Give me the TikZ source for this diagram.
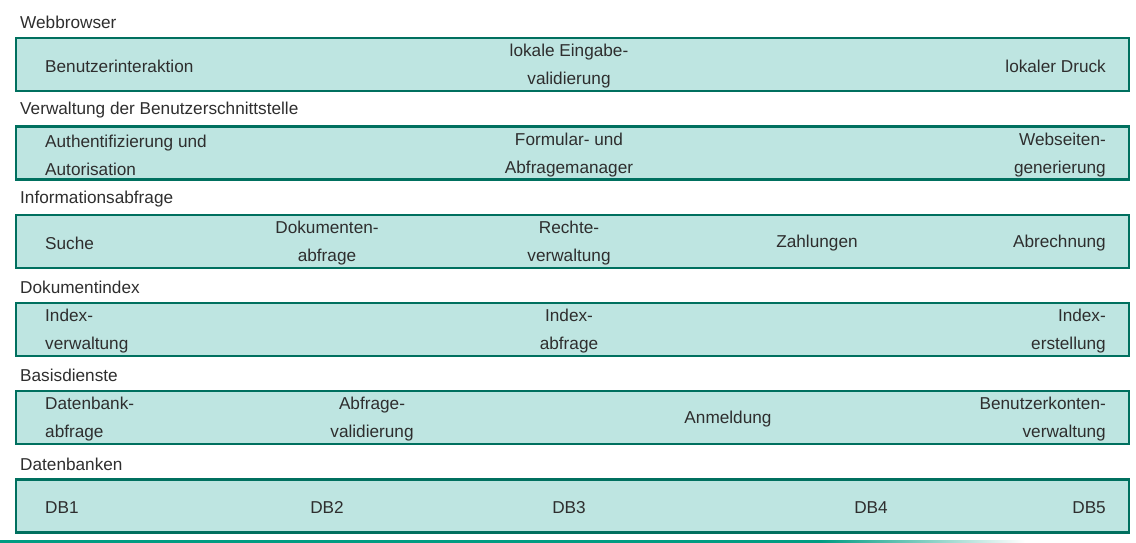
\documentclass[tikz,border=0pt]{standalone}
\usepackage{fontspec}
\setmainfont{Liberation Sans}
\definecolor{boxfill}{HTML}{BEE5E1}
\definecolor{boxline}{HTML}{00705F}
\definecolor{txt}{HTML}{2E2E2E}
\definecolor{rulegreen}{HTML}{009C82}
\begin{document}
\begin{tikzpicture}[x=1pt,y=-1pt,
  every node/.append style={font=\fontsize{17.2}{28}\selectfont, text=txt, inner sep=0pt},
  layerbox/.style={draw=boxline, fill=boxfill, line width=2.2pt, minimum width=1113pt, minimum height=53pt},
  layerlabel/.style={anchor=west},
  lefttxt/.style={anchor=west, align=left},
  righttxt/.style={anchor=east, align=right},
  midtxt/.style={anchor=center, align=center}]
\useasboundingbox (0,0) rectangle (1136,543);
% bottom rule
\fill[rulegreen] (0,540) rectangle (820,542.5);
\shade[left color=rulegreen, right color=white] (820,540) rectangle (1025,542.5);
% row 1
\node[layerlabel] (l1) at (20,22) {Webbrowser};
\node[layerbox] (b1) at (572.5,64.5) {};
\node[lefttxt] (t11) at (45,66) {Benutzerinteraktion};
\node[midtxt] (t12) at (569,66) {lokale Eingabe-\\validierung};
\node[righttxt] (t13) at (1106,66) {lokaler Druck};
% row 2
\node[layerlabel] (l2) at (20,110.5) {Verwaltung der Benutzerschnittstelle};
\node[layerbox] (b2) at (572.5,153) {};
\node[lefttxt] (t21) at (45,155.5) {Authentifizierung und\\Autorisation};
\node[midtxt] (t22) at (569,155.5) {Formular- und\\Abfragemanager};
\node[righttxt] (t23) at (1106,155.5) {Webseiten-\\generierung};
% row 3
\node[layerlabel] (l3) at (20,199.5) {Informationsabfrage};
\node[layerbox] (b3) at (572.5,241.5) {};
\node[lefttxt] (t31) at (45,243) {Suche};
\node[midtxt] (t32) at (327,243.5) {Dokumenten-\\abfrage};
\node[midtxt] (t33) at (569,243.5) {Rechte-\\verwaltung};
\node[midtxt] (t34) at (817,243) {Zahlungen};
\node[righttxt] (t35) at (1106,243) {Abrechnung};
% row 4
\node[layerlabel] (l4) at (20,287.5) {Dokumentindex};
\node[layerbox] (b4) at (572.5,329.5) {};
\node[lefttxt] (t41) at (45,331.5) {Index-\\verwaltung};
\node[midtxt] (t42) at (569,331.5) {Index-\\abfrage};
\node[righttxt] (t43) at (1106,331.5) {Index-\\erstellung};
% row 5
\node[layerlabel] (l5) at (20,375.5) {Basisdienste};
\node[layerbox] (b5) at (572.5,417.5) {};
\node[lefttxt] (t51) at (45,419.5) {Datenbank-\\abfrage};
\node[midtxt] (t52) at (372,419.5) {Abfrage-\\validierung};
\node[midtxt] (t53) at (728,419) {Anmeldung};
\node[righttxt] (t54) at (1106,419.5) {Benutzerkonten-\\verwaltung};
% row 6
\node[layerlabel] (l6) at (20,464.5) {Datenbanken};
\node[layerbox] (b6) at (572.5,506) {};
\node[lefttxt] (t61) at (45,507.5) {DB1};
\node[midtxt] (t62) at (327,507.5) {DB2};
\node[midtxt] (t63) at (569,507.5) {DB3};
\node[midtxt] (t64) at (871,507.5) {DB4};
\node[righttxt] (t65) at (1106,507.5) {DB5};
\end{tikzpicture}
\end{document}
